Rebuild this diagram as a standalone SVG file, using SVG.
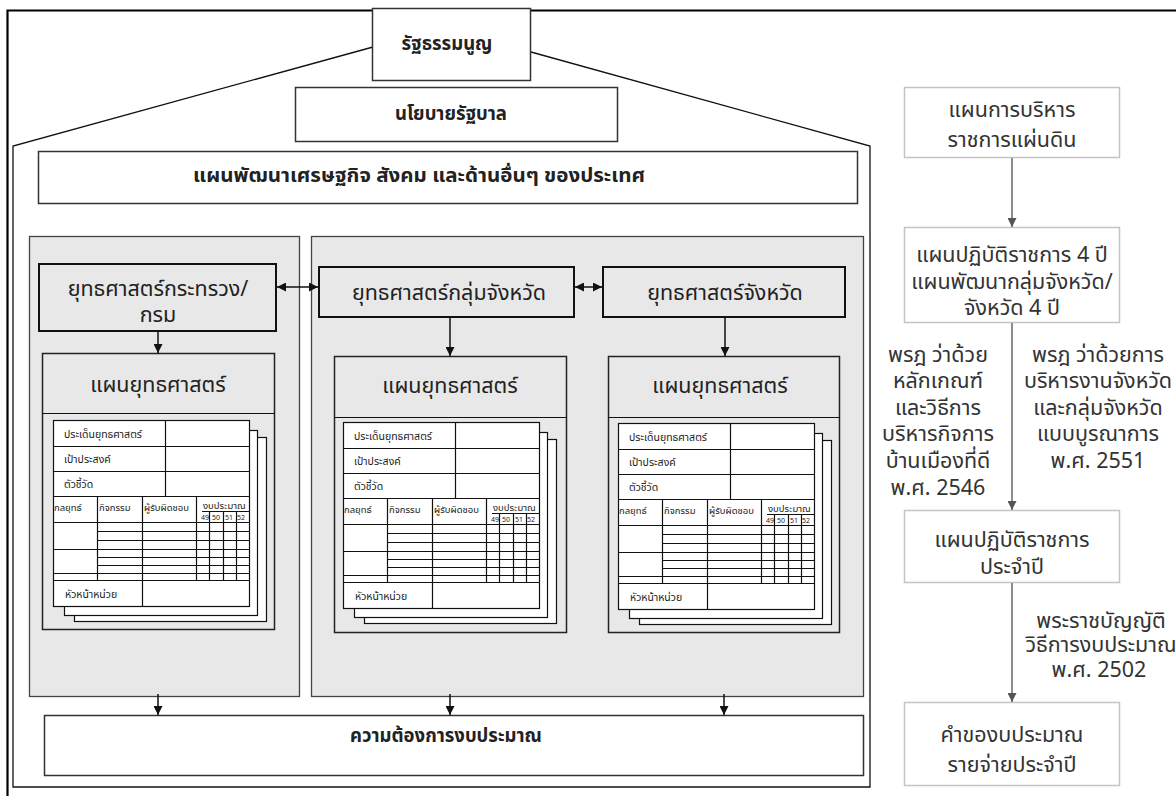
<svg xmlns="http://www.w3.org/2000/svg" width="1176" height="796" viewBox="0 0 1176 796">
<style>
text{font-family:"Noto Sans Thai","Noto Sans","DejaVu Sans",sans-serif;fill:#222}
.b{font-weight:bold;font-size:18.5px;text-anchor:middle}
.s{font-size:21.5px;text-anchor:middle}
.p{font-size:21.5px;text-anchor:middle}
.r{font-size:21.5px;text-anchor:middle;fill:#333}
.f{font-size:10.5px}
.h{font-size:9.5px}
.n{font-size:7px}
.topbox{fill:#fff;stroke:#333;stroke-width:1.5}
.panel{fill:#e8e8e8;stroke:#444;stroke-width:1.3}
.sbox{fill:#e8e8e8;stroke:#111;stroke-width:2}
.plan{fill:#e8e8e8;stroke:#222;stroke-width:1.5}
.rbox{fill:#fff;stroke:#c4c4c4;stroke-width:1.5}
.sheet{fill:#fff;stroke:#111;stroke-width:1.2}
.fl{fill:none;stroke:#111;stroke-width:1.2}
.ar{stroke:#111;stroke-width:1.5;fill:none}
.ag{stroke:#666;stroke-width:1.5;fill:none}
</style>
<defs>
<marker id="mb" viewBox="0 0 10 10" refX="10" refY="5" markerWidth="9" markerHeight="9" markerUnits="userSpaceOnUse" orient="auto-start-reverse"><path d="M0,0 L10,5 L0,10 z" fill="#111"/></marker>
<marker id="mg" viewBox="0 0 10 10" refX="10" refY="5" markerWidth="10" markerHeight="9" markerUnits="userSpaceOnUse" orient="auto"><path d="M0,0 L10,5 L0,10 z" fill="#555"/></marker>
<g id="formArt">
<rect x="21.5" y="17.5" width="192" height="184" class="sheet"/>
<rect x="11.5" y="10.5" width="193" height="185" class="sheet"/>
<rect x="0.5" y="0.5" width="196" height="186" class="sheet"/>
<path class="fl" d="M0.5 26.5H196.5M0.5 51.5H196.5M0.5 76.5H196.5M112.5 0.5V76.5M0.5 102.5H196.5M44.5 76.5V160.5M89.5 76.5V160.5M143.5 76.5V160.5M149 91.5H196M156.5 91.5V160.5M170.5 91.5V160.5M183.5 91.5V160.5M44.5 111.5H196.5M44.5 120.5H196.5M0.5 129.5H196.5M44.5 137.5H196.5M44.5 145.5H196.5M0.5 153.5H196.5M0.5 160.5H196.5M89.5 160.5V186.5"/>
</g>
</defs>

<g id="frame">
<path d="M7.5 796V10.5H1176" fill="none" stroke="#000" stroke-width="2.2"/>
<path d="M373 47L13 146V787H870V146L531 52" fill="none" stroke="#111" stroke-width="1.3"/>
</g>

<g id="constitution"><rect x="372.5" y="8.5" width="158" height="72" class="topbox"/><text x="447" y="50" class="b">รัฐธรรมนูญ</text></g>
<g id="policy"><rect x="295.5" y="87.5" width="322" height="54" class="topbox"/><text x="451" y="120" class="b">นโยบายรัฐบาล</text></g>
<g id="nationalplan"><rect x="38.5" y="151.5" width="819" height="52" class="topbox"/><text x="419" y="182" class="b" textLength="452" lengthAdjust="spacingAndGlyphs">แผนพัฒนาเศรษฐกิจ สังคม และด้านอื่นๆ ของประเทศ</text></g>

<g id="panel-left"><rect x="29.5" y="236.5" width="270" height="460" class="panel"/></g>
<g id="panel-right"><rect x="311.5" y="236.5" width="552" height="460" class="panel"/></g>

<g id="strat-ministry"><rect x="39" y="264" width="237" height="67" class="sbox"/><text x="158" y="296" class="s">ยุทธศาสตร์กระทรวง/</text><text x="158" y="322" class="s">กรม</text></g>
<g id="strat-cluster"><rect x="319" y="267" width="255" height="50" class="sbox"/><text x="449" y="300" class="s">ยุทธศาสตร์กลุ่มจังหวัด</text></g>
<g id="strat-province"><rect x="603" y="267" width="242" height="50" class="sbox"/><text x="725" y="300" class="s">ยุทธศาสตร์จังหวัด</text></g>

<g id="plan-left">
<rect x="42.5" y="353.5" width="232" height="276" class="plan"/><path d="M42.5 413.5H274.5" class="fl" stroke-width="1.5"/>
<text x="158" y="392" class="p">แผนยุทธศาสตร์</text>
<g transform="translate(53,420)"><use href="#formArt"/>
<text x="11" y="18" class="f">ประเด็นยุทธศาสตร์</text><text x="11" y="43" class="f">เป้าประสงค์</text><text x="11" y="68" class="f">ตัวชี้วัด</text>
<text x="1" y="91" class="h">กลยุทธ์</text><text x="46" y="91" class="h">กิจกรรม</text><text x="91" y="91" class="h">ผู้รับผิดชอบ</text><text x="150" y="89" class="h">งบประมาณ</text>
<text x="148" y="100" class="n">49</text><text x="159" y="100" class="n">50</text><text x="172" y="100" class="n">51</text><text x="184" y="100" class="n">52</text>
<text x="12" y="178" class="f">หัวหน้าหน่วย</text></g>
</g>

<g id="plan-cluster">
<rect x="334.5" y="356.5" width="232" height="276" class="plan"/><path d="M334.5 417.5H566.5" class="fl" stroke-width="1.5"/>
<text x="450" y="393" class="p">แผนยุทธศาสตร์</text>
<g transform="translate(343,422)"><use href="#formArt"/>
<text x="11" y="18" class="f">ประเด็นยุทธศาสตร์</text><text x="11" y="43" class="f">เป้าประสงค์</text><text x="11" y="68" class="f">ตัวชี้วัด</text>
<text x="1" y="91" class="h">กลยุทธ์</text><text x="46" y="91" class="h">กิจกรรม</text><text x="91" y="91" class="h">ผู้รับผิดชอบ</text><text x="150" y="89" class="h">งบประมาณ</text>
<text x="148" y="100" class="n">49</text><text x="159" y="100" class="n">50</text><text x="172" y="100" class="n">51</text><text x="184" y="100" class="n">52</text>
<text x="12" y="178" class="f">หัวหน้าหน่วย</text></g>
</g>

<g id="plan-province">
<rect x="608.5" y="356.5" width="231" height="276" class="plan"/><path d="M608.5 417.5H839.5" class="fl" stroke-width="1.5"/>
<text x="720" y="393" class="p">แผนยุทธศาสตร์</text>
<g transform="translate(618,423)"><use href="#formArt"/>
<text x="11" y="18" class="f">ประเด็นยุทธศาสตร์</text><text x="11" y="43" class="f">เป้าประสงค์</text><text x="11" y="68" class="f">ตัวชี้วัด</text>
<text x="1" y="91" class="h">กลยุทธ์</text><text x="46" y="91" class="h">กิจกรรม</text><text x="91" y="91" class="h">ผู้รับผิดชอบ</text><text x="150" y="89" class="h">งบประมาณ</text>
<text x="148" y="100" class="n">49</text><text x="159" y="100" class="n">50</text><text x="172" y="100" class="n">51</text><text x="184" y="100" class="n">52</text>
<text x="12" y="178" class="f">หัวหน้าหน่วย</text></g>
</g>

<g id="budget-need"><rect x="44.5" y="715.5" width="819" height="60" class="topbox"/><text x="446" y="742" class="b">ความต้องการงบประมาณ</text></g>

<g id="r-admin"><rect x="904.5" y="87.5" width="215" height="70" class="rbox"/><text x="1012" y="117" class="r">แผนการบริหาร</text><text x="1012" y="147" class="r">ราชการแผ่นดิน</text></g>
<g id="r-4yr"><rect x="904.5" y="227.5" width="215" height="95" class="rbox"/><text x="1012" y="262" class="r">แผนปฏิบัติราชการ 4 ปี</text><text x="1012" y="289" class="r">แผนพัฒนากลุ่มจังหวัด/</text><text x="1012" y="315" class="r">จังหวัด 4 ปี</text></g>
<g id="r-annual"><rect x="904.5" y="510.5" width="215" height="72" class="rbox"/><text x="1012" y="547" class="r">แผนปฏิบัติราชการ</text><text x="1012" y="574" class="r">ประจำปี</text></g>
<g id="r-request"><rect x="904.5" y="702.5" width="215" height="83" class="rbox"/><text x="1012" y="742" class="r">คำของบประมาณ</text><text x="1012" y="772" class="r">รายจ่ายประจำปี</text></g>

<g id="law-labels">
<text x="938" y="362" class="r">พรฎ ว่าด้วย</text><text x="938" y="388" class="r">หลักเกณฑ์</text><text x="938" y="415" class="r">และวิธีการ</text><text x="938" y="441" class="r">บริหารกิจการ</text><text x="938" y="468" class="r">บ้านเมืองที่ดี</text><text x="938" y="495" class="r">พ.ศ. 2546</text>
<text x="1098" y="362" class="r">พรฎ ว่าด้วยการ</text><text x="1098" y="388" class="r">บริหารงานจังหวัด</text><text x="1098" y="415" class="r">และกลุ่มจังหวัด</text><text x="1098" y="441" class="r">แบบบูรณาการ</text><text x="1098" y="468" class="r">พ.ศ. 2551</text>
<text x="1101" y="628" class="r">พระราชบัญญัติ</text><text x="1101" y="652" class="r">วิธีการงบประมาณ</text><text x="1099" y="677" class="r">พ.ศ. 2502</text>
</g>

<g id="connectors">
<path class="ar" d="M277 287H318" marker-start="url(#mb)" marker-end="url(#mb)"/>
<path class="ar" d="M575 287H602" marker-start="url(#mb)" marker-end="url(#mb)"/>
<path class="ar" d="M158 331V353" marker-end="url(#mb)"/>
<path class="ar" d="M450 317V356" marker-end="url(#mb)"/>
<path class="ar" d="M725 317V356" marker-end="url(#mb)"/>
<path class="ar" d="M158 694V715" marker-end="url(#mb)"/>
<path class="ar" d="M450 694V715" marker-end="url(#mb)"/>
<path class="ar" d="M724 694V715" marker-end="url(#mb)"/>
<path class="ag" d="M1012 158V227" marker-end="url(#mg)"/>
<path class="ag" d="M1012 323V510" marker-end="url(#mg)"/>
<path class="ag" d="M1012 583V702" marker-end="url(#mg)"/>
</g>
</svg>
